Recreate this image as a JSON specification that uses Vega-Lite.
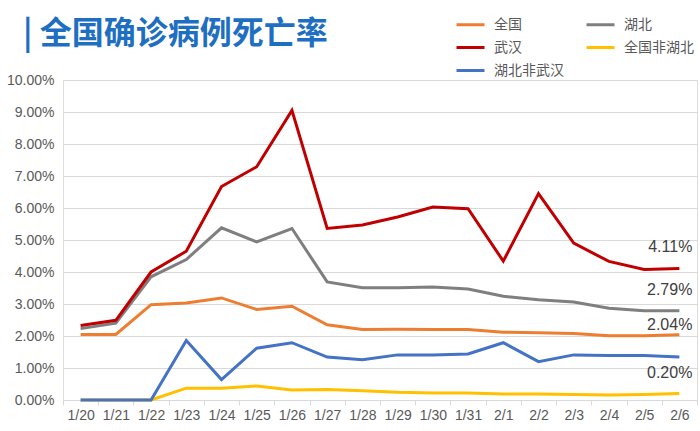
{
  "$schema": "https://vega.github.io/schema/vega-lite/v6.json",
  "width": 634,
  "height": 320,
  "autosize": {"type": "none"},
  "padding": {"left": 63, "top": 80, "right": 3, "bottom": 31},
  "background": "white",
  "title": {
    "text": "| 全国确诊病例死亡率",
    "anchor": "start",
    "frame": "group",
    "fontSize": 32,
    "fontWeight": "bold",
    "font": "Noto Sans CJK SC",
    "color": "#1e6fc1",
    "dx": -40,
    "offset": 0,
    "dy": 42
  },
  "data": {
    "values": [
      {"date": "1/20", "series": "全国非湖北", "rate": 0},
      {"date": "1/21", "series": "全国非湖北", "rate": 0},
      {"date": "1/22", "series": "全国非湖北", "rate": 0},
      {"date": "1/23", "series": "全国非湖北", "rate": 0.0037},
      {"date": "1/24", "series": "全国非湖北", "rate": 0.0037},
      {"date": "1/25", "series": "全国非湖北", "rate": 0.0044},
      {"date": "1/26", "series": "全国非湖北", "rate": 0.0031},
      {"date": "1/27", "series": "全国非湖北", "rate": 0.0033},
      {"date": "1/28", "series": "全国非湖北", "rate": 0.0029},
      {"date": "1/29", "series": "全国非湖北", "rate": 0.0024},
      {"date": "1/30", "series": "全国非湖北", "rate": 0.0022},
      {"date": "1/31", "series": "全国非湖北", "rate": 0.0022},
      {"date": "2/1", "series": "全国非湖北", "rate": 0.0019},
      {"date": "2/2", "series": "全国非湖北", "rate": 0.0019},
      {"date": "2/3", "series": "全国非湖北", "rate": 0.0017},
      {"date": "2/4", "series": "全国非湖北", "rate": 0.0016},
      {"date": "2/5", "series": "全国非湖北", "rate": 0.0017},
      {"date": "2/6", "series": "全国非湖北", "rate": 0.0020},
      {"date": "1/20", "series": "湖北非武汉", "rate": 0},
      {"date": "1/21", "series": "湖北非武汉", "rate": 0},
      {"date": "1/22", "series": "湖北非武汉", "rate": 0},
      {"date": "1/23", "series": "湖北非武汉", "rate": 0.0186},
      {"date": "1/24", "series": "湖北非武汉", "rate": 0.0064},
      {"date": "1/25", "series": "湖北非武汉", "rate": 0.0162},
      {"date": "1/26", "series": "湖北非武汉", "rate": 0.0179},
      {"date": "1/27", "series": "湖北非武汉", "rate": 0.0134},
      {"date": "1/28", "series": "湖北非武汉", "rate": 0.0126},
      {"date": "1/29", "series": "湖北非武汉", "rate": 0.0141},
      {"date": "1/30", "series": "湖北非武汉", "rate": 0.0141},
      {"date": "1/31", "series": "湖北非武汉", "rate": 0.0144},
      {"date": "2/1", "series": "湖北非武汉", "rate": 0.0179},
      {"date": "2/2", "series": "湖北非武汉", "rate": 0.0120},
      {"date": "2/3", "series": "湖北非武汉", "rate": 0.0141},
      {"date": "2/4", "series": "湖北非武汉", "rate": 0.0139},
      {"date": "2/5", "series": "湖北非武汉", "rate": 0.0139},
      {"date": "2/6", "series": "湖北非武汉", "rate": 0.0134},
      {"date": "1/20", "series": "全国", "rate": 0.0205},
      {"date": "1/21", "series": "全国", "rate": 0.0205},
      {"date": "1/22", "series": "全国", "rate": 0.0298},
      {"date": "1/23", "series": "全国", "rate": 0.0303},
      {"date": "1/24", "series": "全国", "rate": 0.0319},
      {"date": "1/25", "series": "全国", "rate": 0.0283},
      {"date": "1/26", "series": "全国", "rate": 0.0293},
      {"date": "1/27", "series": "全国", "rate": 0.0235},
      {"date": "1/28", "series": "全国", "rate": 0.0220},
      {"date": "1/29", "series": "全国", "rate": 0.0221},
      {"date": "1/30", "series": "全国", "rate": 0.0220},
      {"date": "1/31", "series": "全国", "rate": 0.0220},
      {"date": "2/1", "series": "全国", "rate": 0.0212},
      {"date": "2/2", "series": "全国", "rate": 0.0210},
      {"date": "2/3", "series": "全国", "rate": 0.0208},
      {"date": "2/4", "series": "全国", "rate": 0.0201},
      {"date": "2/5", "series": "全国", "rate": 0.0201},
      {"date": "2/6", "series": "全国", "rate": 0.0204},
      {"date": "1/20", "series": "湖北", "rate": 0.0223},
      {"date": "1/21", "series": "湖北", "rate": 0.0240},
      {"date": "1/22", "series": "湖北", "rate": 0.0385},
      {"date": "1/23", "series": "湖北", "rate": 0.0439},
      {"date": "1/24", "series": "湖北", "rate": 0.0538},
      {"date": "1/25", "series": "湖北", "rate": 0.0494},
      {"date": "1/26", "series": "湖北", "rate": 0.0536},
      {"date": "1/27", "series": "湖北", "rate": 0.0369},
      {"date": "1/28", "series": "湖北", "rate": 0.0351},
      {"date": "1/29", "series": "湖北", "rate": 0.0351},
      {"date": "1/30", "series": "湖北", "rate": 0.0353},
      {"date": "1/31", "series": "湖北", "rate": 0.0347},
      {"date": "2/1", "series": "湖北", "rate": 0.0324},
      {"date": "2/2", "series": "湖北", "rate": 0.0313},
      {"date": "2/3", "series": "湖北", "rate": 0.0306},
      {"date": "2/4", "series": "湖北", "rate": 0.0287},
      {"date": "2/5", "series": "湖北", "rate": 0.0279},
      {"date": "2/6", "series": "湖北", "rate": 0.0279},
      {"date": "1/20", "series": "武汉", "rate": 0.0233},
      {"date": "1/21", "series": "武汉", "rate": 0.0249},
      {"date": "1/22", "series": "武汉", "rate": 0.0400},
      {"date": "1/23", "series": "武汉", "rate": 0.0465},
      {"date": "1/24", "series": "武汉", "rate": 0.0667},
      {"date": "1/25", "series": "武汉", "rate": 0.0729},
      {"date": "1/26", "series": "武汉", "rate": 0.0905},
      {"date": "1/27", "series": "武汉", "rate": 0.0536},
      {"date": "1/28", "series": "武汉", "rate": 0.0547},
      {"date": "1/29", "series": "武汉", "rate": 0.0572},
      {"date": "1/30", "series": "武汉", "rate": 0.0603},
      {"date": "1/31", "series": "武汉", "rate": 0.0598},
      {"date": "2/1", "series": "武汉", "rate": 0.0434},
      {"date": "2/2", "series": "武汉", "rate": 0.0645},
      {"date": "2/3", "series": "武汉", "rate": 0.0490},
      {"date": "2/4", "series": "武汉", "rate": 0.0433},
      {"date": "2/5", "series": "武汉", "rate": 0.0408},
      {"date": "2/6", "series": "武汉", "rate": 0.0411}
    ]
  },
  "encoding": {
    "x": {
      "field": "date",
      "type": "ordinal",
      "sort": null,
      "bandPosition": 0.5,
      "scale": {"type": "band", "paddingInner": 0, "paddingOuter": 0},
      "axis": {
        "title": null,
        "labelAngle": 0,
        "tickBand": "extent",
        "domainColor": "#d9d9d9",
        "tickColor": "#d9d9d9",
        "tickSize": 5,
        "labelFontSize": 14,
        "labelColor": "#595959",
        "labelFont": "Liberation Sans",
        "labelPadding": 3,
        "grid": false
      }
    },
    "y": {
      "field": "rate",
      "type": "quantitative",
      "scale": {"domain": [0, 0.1], "nice": false},
      "axis": {
        "title": null,
        "format": ".2%",
        "values": [0, 0.01, 0.02, 0.03, 0.04, 0.05, 0.06, 0.07, 0.08, 0.09, 0.1],
        "domain": false,
        "ticks": false,
        "gridColor": "#d9d9d9",
        "labelFontSize": 14,
        "labelColor": "#595959",
        "labelFont": "Liberation Sans",
        "labelPadding": 9
      }
    }
  },
  "layer": [
    {
      "mark": {"type": "line", "strokeWidth": 3, "strokeJoin": "miter"},
      "encoding": {
        "color": {
          "field": "series",
          "type": "nominal",
          "scale": {
            "domain": ["全国", "武汉", "湖北非武汉", "湖北", "全国非湖北"],
            "range": ["#ed7d31", "#c00000", "#4472c4", "#7f7f7f", "#ffc000"]
          },
          "legend": {
            "orient": "none",
            "legendX": 392,
            "legendY": -71,
            "columns": 2,
            "title": null,
            "symbolType": "stroke",
            "symbolSize": 784,
            "symbolStrokeWidth": 3,
            "labelFontSize": 14,
            "labelColor": "#595959",
            "labelFont": "Noto Sans CJK SC",
            "labelOffset": 8,
            "rowPadding": -8,
            "columnPadding": 16,
            "padding": 0
          }
        }
      }
    },
    {
      "transform": [{"filter": "datum.date == '2/6' && (datum.series == '武汉' || datum.series == '湖北' || datum.series == '全国非湖北')"}],
      "mark": {"type": "text", "align": "right", "baseline": "middle", "dx": 13, "dy": -21, "fontSize": 16, "font": "Liberation Sans", "color": "#404040"},
      "encoding": {"text": {"field": "rate", "type": "quantitative", "format": ".2%"}}
    },
    {
      "transform": [{"filter": "datum.date == '2/6' && datum.series == '全国'"}],
      "mark": {"type": "text", "align": "right", "baseline": "middle", "dx": 13, "dy": -10, "fontSize": 16, "font": "Liberation Sans", "color": "#404040"},
      "encoding": {"text": {"field": "rate", "type": "quantitative", "format": ".2%"}}
    }
  ]
}
